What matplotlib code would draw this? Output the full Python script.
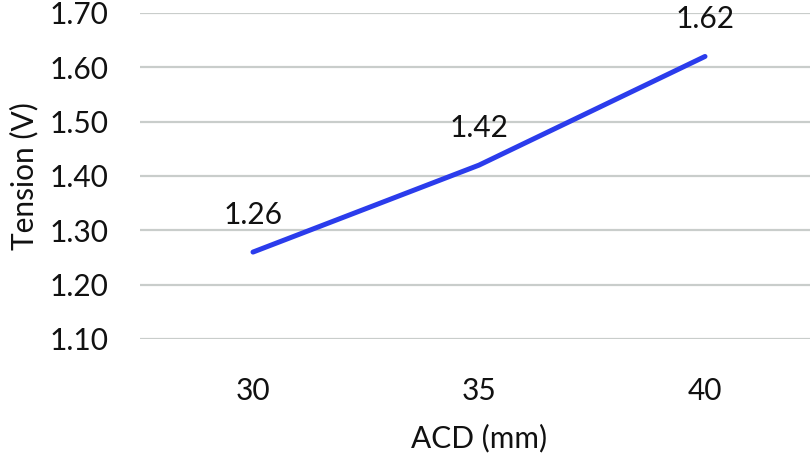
import matplotlib
matplotlib.use("Agg")
import matplotlib.pyplot as plt

# data
acd_mm = ["30", "35", "40"]
tension_v = [1.26, 1.42, 1.62]
y_ticks = [1.10, 1.20, 1.30, 1.40, 1.50, 1.60, 1.70]

plt.rcParams['font.family'] = ['Lato', 'DejaVu Sans']
FS = 21.5

fig = plt.figure(figsize=(8.10, 4.57), dpi=100)
# plot area placed to match the reference (right edge runs just past the image)
ax = fig.add_axes([140 / 810, 1 - 339 / 457, 678 / 810, 326 / 457])

x = list(range(len(acd_mm)))
ax.plot(x, tension_v, color="#2b3cec", linewidth=3.6, solid_capstyle="round", zorder=3)

for xi, v in zip(x, tension_v):
    ax.annotate("{:.2f}".format(v), (xi, v), xytext=(0, 27), textcoords="offset points",
                ha="center", va="center", fontsize=FS, color="#111111")

ax.set_xlim(-0.5, len(acd_mm) - 0.5)
ax.set_ylim(y_ticks[0], y_ticks[-1])
ax.set_xticks(x)
ax.set_xticklabels(acd_mm)
ax.set_yticks(y_ticks)
ax.set_yticklabels(["{:.2f}".format(t) for t in y_ticks])

ax.grid(axis="y", color="#c9cdcb", linewidth=1.6)
ax.set_axisbelow(True)
for s in ax.spines.values():
    s.set_visible(False)
ax.tick_params(length=0, labelsize=FS, colors="#111111")
ax.tick_params(axis="x", pad=27)
ax.tick_params(axis="y", pad=23)

ax.set_xlabel("ACD (mm)", fontsize=FS, color="#111111", labelpad=14)
ax.set_ylabel("Tension (V)", fontsize=FS, color="#111111", labelpad=8)

fig.savefig("out.png", dpi=100)
